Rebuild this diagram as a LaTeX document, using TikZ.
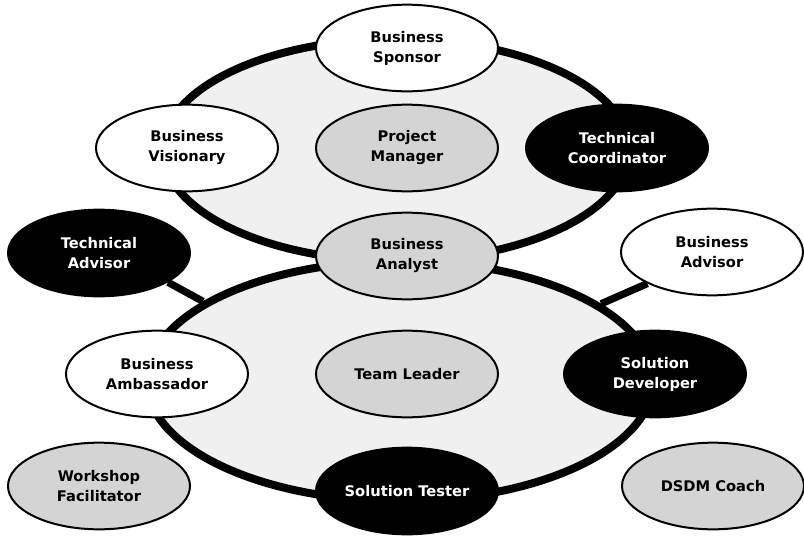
\documentclass[tikz,border=0pt]{standalone}
\usepackage{fontspec}
\setmainfont{DejaVu Sans}
\usetikzlibrary{shapes.geometric,backgrounds}
\definecolor{ringgray}{HTML}{F0F0F0}
\definecolor{rolegray}{HTML}{D4D4D4}
\begin{document}
\begin{tikzpicture}[x=0.75pt, y=-0.75pt,
    role/.style={ellipse, draw=black, line width=1.5pt, minimum width=136.5pt,
        minimum height=65pt, inner sep=0pt, align=center,
        font=\bfseries\fontsize{11}{15}\selectfont},
    whiterole/.style={role, fill=white},
    grayrole/.style={role, fill=rolegray},
    blackrole/.style={role, fill=black, text=white},
    ring/.style={ellipse, draw=black, line width=6pt, fill=ringgray, inner sep=0pt},
    link/.style={line width=5.5pt}]
    \useasboundingbox (0,0) rectangle (804,536);
    \node[ring, minimum width=349.5pt, minimum height=166.5pt] (upper) at (396,150) {};
    \node[ring, minimum width=379.5pt, minimum height=180pt] (lower) at (400,381) {};
    \node[whiterole] (sponsor) at (407,48) {Business\\Sponsor};
    \node[whiterole] (visionary) at (187,148) {Business\\Visionary};
    \node[grayrole] (manager) at (407,148) {Project\\Manager};
    \node[blackrole] (coordinator) at (617,148) {Technical\\Coordinator};
    \node[grayrole] (analyst) at (407,256) {Business\\Analyst};
    \node[blackrole] (techadvisor) at (99,253) {Technical\\Advisor};
    \node[whiterole] (busadvisor) at (712,252) {Business\\Advisor};
    \node[whiterole] (ambassador) at (157,374) {Business\\Ambassador};
    \node[grayrole] (leader) at (407,374) {Team Leader};
    \node[blackrole] (developer) at (655,374) {Solution\\Developer};
    \node[grayrole] (facilitator) at (99,486) {Workshop\\Facilitator};
    \node[blackrole] (tester) at (407,491) {Solution Tester};
    \node[grayrole] (coach) at (713,486) {DSDM Coach};
    \begin{scope}[on background layer]
        \draw[link] (techadvisor.-23) -- (lower.158);
        \draw[link] (busadvisor.206) -- (lower.21);
    \end{scope}
\end{tikzpicture}
\end{document}
